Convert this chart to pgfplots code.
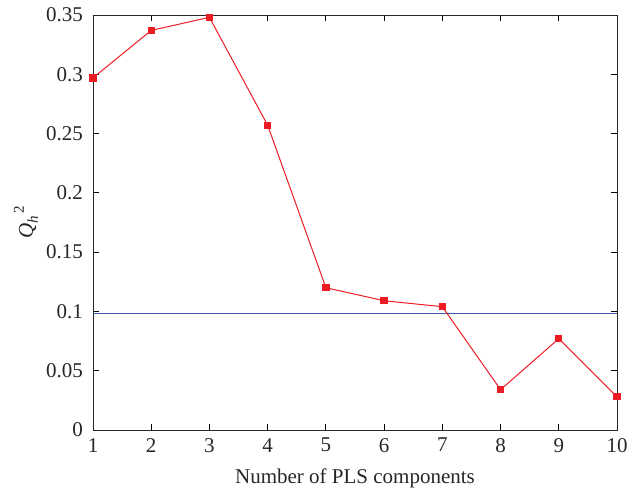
\documentclass[border=0pt]{standalone}
\usepackage{pgfplots}
\pgfplotsset{compat=1.18}
\usepackage{fontspec}
\setmainfont{Liberation Serif}
\definecolor{qred}{RGB}{237,28,36}
\definecolor{qblue}{RGB}{58,88,170}
\newcommand{\lblfont}{\fontsize{21}{24}\selectfont}
\begin{document}
\lblfont
\begin{tikzpicture}
\begin{axis}[
  name=main,
  scale only axis,
  width=524pt, height=415pt,
  xmin=1, xmax=10, ymin=0, ymax=0.35,
  xtick={1,...,10},
  ytick={0,0.05,...,0.35},
  yticklabels={0,0.05,0.1,0.15,0.2,0.25,0.3,0.35},
  tick align=inside,
  major tick length=6pt,
  tick style={black, line width=0.8pt},
  axis line style={black!85, line width=0.9pt},
  /pgf/number format/assume math mode=true,
  ticklabel style={font=\lblfont, text=black!85},
  yticklabel style={xshift=-3pt},
  xticklabel style={yshift=-1pt},
  label style={font=\lblfont, text=black!85},
  xlabel={Number of PLS components},
  ylabel={\textit{Q}\raisebox{-5pt}{\fontsize{15}{15}\selectfont\textit{h}}\raisebox{9pt}{\fontsize{15}{15}\selectfont\,2}},
  ylabel style={yshift=-6pt},
  xlabel style={yshift=-2pt},
  clip=false,
]
\addplot[qblue, line width=1.1pt, forget plot] coordinates {(1,0.0986) (10,0.0986)};
\addplot[qred, line width=1pt, mark=square*, mark size=3.2pt, mark options={fill=qred, draw=qred}]
  coordinates {
    (1,0.297) (2,0.337) (3,0.348) (4,0.257) (5,0.120)
    (6,0.109) (7,0.104) (8,0.034) (9,0.077) (10,0.028)
  };
\end{axis}
% white margins around the plot area
\path ([xshift=-93pt,yshift=-63pt]main.south west) rectangle ([xshift=26pt,yshift=15pt]main.north east);
\end{tikzpicture}
\end{document}
